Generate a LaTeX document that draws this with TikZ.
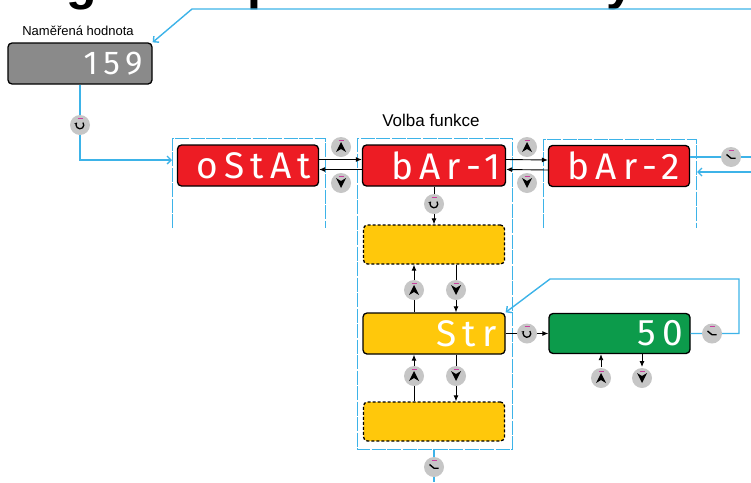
\documentclass[tikz,border=0pt]{standalone}
\usepackage{fontspec}
\setmainfont{Liberation Sans}
\newfontfamily\segfont{Fira Sans}
\usepackage{tikz}
\usetikzlibrary{arrows.meta}

\definecolor{lblue}{HTML}{3DB3E8}
\definecolor{dred}{HTML}{ED1C24}
\definecolor{dyel}{HTML}{FFC80B}
\definecolor{dgrn}{HTML}{0C9B4B}
\definecolor{dgray}{HTML}{8A8A8A}
\definecolor{bgray}{HTML}{C6C6C6}
\definecolor{bmag}{HTML}{C8409E}

\newcommand\btnbase{\fill[bgray] (0,0) circle (10); \draw[bmag,line width=1.3pt] (-2.5,-6.8) -- (2.5,-6.8);}

\tikzset{
 disp/.style={draw=black,line width=1.3pt,rounded corners=4pt,minimum width=141pt,minimum height=41pt,inner sep=0pt},
 segtxt/.style={font=\segfont\fontsize{#1}{#1}\selectfont\addfontfeatures{LetterSpace=17},text=white,anchor=east,inner sep=0pt},
 segtxt/.default=37,
 blueln/.style={draw=lblue,line width=1.4pt},
 frame/.style={draw=lblue,line width=1pt,dash pattern=on 14pt off 1.5pt},
 barrow/.style={-{Straight Barb[length=4pt,width=8pt]}},
 karrow/.style={draw=black,line width=0.9pt,-{Latex[length=6pt,width=5pt]}},
 upbtn/.pic={\btnbase \fill (0,-5) -- (5,5) -- (0,2) -- (-5,5) -- cycle;},
 dnbtn/.pic={\btnbase \fill (0,5) -- (5,-5) -- (0,-2) -- (-5,-5) -- cycle;},
 rotbtn/.pic={\btnbase \draw[line width=1.3pt,-{Stealth[length=2.5pt,width=3.5pt]}] (-40:3.8) arc(-40:220:3.8);},
 escbtn/.pic={\btnbase \draw[line width=1.4pt] (-4.5,-2.5) -- (0,1.2) -- (4.5,1.2);},
}

\begin{document}
\begin{tikzpicture}[x=1pt,y=-1pt]
\useasboundingbox (0,0) rectangle (751,482);

% heading, cut off by the page
\begin{scope}[font=\bfseries\fontsize{50}{50}\selectfont]
 \node[anchor=base] (hg) at (82,-1) {g};
 \node[anchor=base] (hp) at (263,-1) {p};
 \node[anchor=base] (hy) at (620,-1) {y};
\end{scope}

% frames
\draw[frame] (172,228) -- (172,138) -- (325,138) -- (325,228);
\draw[frame] (357,138) rectangle (512,449);
\draw[frame] (543,228) -- (543,139) -- (696,139) -- (696,228);

% measured value
\node[font=\fontsize{13}{15}\selectfont] (lval) at (78,31) {Naměřená hodnota};
\node[disp,fill=dgray,minimum width=144pt] (val) at (80,63.5) {};
\node[segtxt=33] (tval) at ([xshift=-10pt]val.east) {159};

% function menu
\node[font=\fontsize{17}{19}\selectfont] (lvolba) at (431,120) {Volba funkce};
\node[disp,fill=dred] (ostat) at (248,165.5) {};
\node[segtxt] (tostat) at ([xshift=-8pt]ostat.east) {oStAt};
\node[disp,fill=dred,minimum width=143pt] (bar1) at (434,165.5) {};
\node[segtxt] (tbar1) at ([xshift=-5pt]bar1.east) {bAr-1};
\node[disp,fill=dred] (bar2) at (619,166) {};
\node[segtxt] (tbar2) at ([xshift=-10pt]bar2.east) {bAr-2};

% submenu
\node[disp,fill=dyel,dash pattern=on 3pt off 2pt,minimum height=39pt] (yel1) at (434,244.5) {};
\node[disp,fill=dyel,minimum width=142pt] (str) at (434,333.5) {};
\node[segtxt] (tstr) at ([xshift=-9pt]str.east) {Str};
\node[disp,fill=dyel,dash pattern=on 3pt off 2pt,minimum height=39pt] (yel2) at (434,421.5) {};
\node[disp,fill=dgrn,minimum height=40pt] (num) at (619.5,333.5) {};
\node[segtxt] (tnum) at ([xshift=-7pt]num.east) {50};

% blue lines
\coordinate (fl) at (172,160);
\draw[blueln,barrow] (751,9) -- (192,9) -- (val.north east);
\draw[blueln,barrow] (val.south) -- (80,160) -- (fl);
\pic at (80,125) {rotbtn};

\draw[blueln] ([yshift=9pt]bar2.east) -- (751,157);
\draw[blueln,barrow] (751,172) -- (697,172);
\pic at (731,157) {escbtn};

\coordinate (fb) at (434,449);
\coordinate (fe) at (434,482);
\draw[blueln] (fb) -- (fe);
\pic at (434,467) {escbtn};

\draw[blueln,barrow] (num.east) -- (739,333.5) -- (739,279) -- (550,279) -- (str.north east);
\pic at (712,333.5) {escbtn};

% black arrows
\foreach \a/\b/\x in {ostat/bar1/341,bar1/bar2/527} {
 \draw[karrow] ([yshift=6pt]\a.east) -- ([yshift=6pt]\b.west);
 \draw[karrow] ([yshift=-4pt]\b.west) -- ([yshift=-4pt]\a.east);
 \pic at (\x,147) {upbtn};
 \pic at (\x,183) {dnbtn};
}

\draw[karrow] (bar1.south) -- (yel1.north);
\pic at (434,204) {rotbtn};

\foreach \u/\l/\m in {yel1/str/290,str/yel2/376} {
 \draw[karrow] ([xshift=-20pt]\l.north) -- ([xshift=-20pt]\u.south);
 \draw[karrow] ([xshift=22pt]\u.south) -- ([xshift=22pt]\l.north);
 \pic at (414,\m) {upbtn};
 \pic at (456,\m) {dnbtn};
}

\draw[karrow] (str.east) -- (num.west);
\pic at (527,333.5) {rotbtn};

\coordinate (nu) at (601,367);
\coordinate (nd) at (642,367);
\draw[karrow] (nu) -- ([xshift=-18.5pt]num.south);
\draw[karrow] ([xshift=22.5pt]num.south) -- (nd);
\pic at (601,378) {upbtn};
\pic at (642,378) {dnbtn};

\end{tikzpicture}
\end{document}
